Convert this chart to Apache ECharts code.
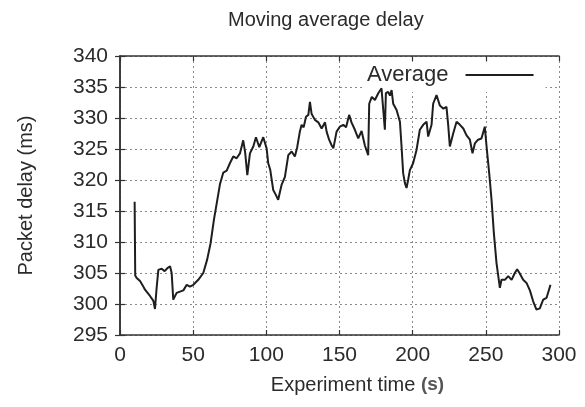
<!DOCTYPE html>
<html>
<head>
<meta charset="utf-8">
<script src="https://cdn.jsdelivr.net/npm/echarts@6/dist/echarts.min.js"></script>
<style>html,body{margin:0;padding:0;background:#fff}#c{width:585px;height:407px}</style>
</head>
<body>
<div id="c"></div>
<script>
var times = [10,10.4,11.4,13.7,15.5,17.1,20.5,22.8,23.9,25.0,26.2,28.5,30.5,32.5,34.2,35.3,36.4,38.7,41.0,43.3,45.6,47.8,50.1,53.5,56.9,59.6,61.9,64.2,66.5,68.3,70.6,72.9,75.1,77.4,79.7,82.0,84.2,85.5,87.0,88.8,91.1,92.9,94.0,95.2,97.9,100.2,101.3,102.7,104.7,106.5,108.1,110.4,112.7,115.0,117.3,119.5,121.1,122.9,124.1,125.5,127.1,128.7,129.8,130.9,133.2,135.5,137.8,140.1,141.2,142.9,144.6,145.8,148.0,150.3,152.6,154.5,156.6,158.2,160.5,162.8,165.1,167.3,169.6,170.3,172.1,174.2,176.5,178.7,179.9,181.0,181.7,183.3,184.5,185.6,186.7,189.0,191.3,192.4,193.5,194.7,195.8,196.9,198.1,200.3,202.6,204.9,207.2,209.5,210.6,212.9,214.0,216.3,218.6,221.0,223.1,224.3,225.4,227.7,230.0,232.3,234.6,236.8,239.1,240.9,242.5,244.7,247.0,249.3,250.5,252.3,253.9,255.5,257.3,259.6,260.7,263.0,265.3,267.6,269.8,271.4,273.0,275.5,277.8,280.1,282.4,284.6,286.9,289.2,291.5,294.2];
var delays = [316.5,304.6,304.2,303.7,303.0,302.3,301.3,300.5,299.2,302.5,305.5,305.7,305.3,305.8,306.1,305.0,300.7,301.8,302.0,302.2,303.1,302.8,303.1,303.9,305.0,307.2,309.8,313.6,316.8,319.3,321.2,321.5,322.7,323.8,323.5,324.3,326.4,324.5,320.8,324.3,325.4,326.9,326.6,325.3,326.9,325.1,322.7,321.6,318.4,317.6,316.8,319.2,320.5,324.0,324.6,323.8,325.3,327.8,328.9,328.5,330.2,330.5,332.6,330.7,329.7,329.3,328.3,329.3,327.8,326.5,325.6,325.1,327.8,328.6,328.9,328.5,330.5,329.3,328.1,326.7,327.9,325.6,324.0,332.3,333.4,332.9,334.0,334.8,335.1,328.1,334.0,334.2,333.6,334.5,332.3,331.3,329.4,325.4,321.1,319.5,318.7,320.0,321.6,322.7,324.8,328.1,328.9,329.4,327.0,328.9,332.3,333.7,332.0,331.5,331.8,328.8,325.4,327.5,329.4,328.9,328.3,327.2,326.5,324.3,325.9,326.5,326.7,328.6,325.4,321.1,316.8,311.4,306.6,302.6,303.9,303.9,304.5,303.9,305.0,305.6,305.0,303.9,303.4,302.2,300.4,299.1,299.3,300.7,301.0,303.1];
var xTicks = {min: 0, max: 300, step: 50};
var yTicks = {min: 295, max: 340, step: 5};
var titleText = 'Moving average delay';
var xName = 'Experiment time ';
var yName = 'Packet delay (ms)';
var seriesName = 'Average';

var pts = times.map(function (t, i) { return [t, delays[i]]; });
var txt = '#2b2b2b';
var font = 'Liberation Sans, Arial, sans-serif';
var axisLine = {show: true, lineStyle: {color: '#333', width: 1.5}};
var tick = {show: true, inside: true, length: 5, lineStyle: {color: '#333', width: 1.2}};
var grid = {show: true, lineStyle: {color: '#8a8a8a', type: [2, 3], width: 1}};

var chart = echarts.init(document.getElementById('c'), null, {renderer: 'canvas'});
chart.setOption({
  animation: false,
  backgroundColor: '#fff',
  title: {text: titleText, left: 223, top: 5, textStyle: {fontFamily: font, fontSize: 20, fontWeight: 'normal', color: txt}},
  legend: {
    data: [seriesName], left: 362, top: 62, z: 1, align: 'right',
    backgroundColor: '#fff', padding: [2, 12, 6, 5],
    itemWidth: 68, itemHeight: 2, icon: 'rect',
    textStyle: {fontFamily: font, fontSize: 22, color: txt, padding: [0, 12, 0, 0]}
  },
  grid: {left: 120, right: 26, top: 56, bottom: 72},
  xAxis: [{
    type: 'value', min: xTicks.min, max: xTicks.max, interval: xTicks.step,
    axisLine: axisLine, axisTick: tick, splitLine: grid,
    axisLabel: {fontFamily: font, fontSize: 21, color: txt, margin: 10},
    name: xName + '{b|(s)}', nameLocation: 'middle', nameGap: 40,
    nameTextStyle: {fontFamily: font, fontSize: 20, color: txt, padding: [0, 0, 0, 36],
      rich: {b: {fontFamily: font, fontSize: 19, fontWeight: 'bold', color: '#555'}}}
  }, {
    type: 'value', position: 'top', min: xTicks.min, max: xTicks.max, interval: xTicks.step,
    axisLine: axisLine, axisTick: tick, splitLine: {show: false}, axisLabel: {show: false}
  }],
  yAxis: [{
    type: 'value', min: yTicks.min, max: yTicks.max, interval: yTicks.step,
    axisLine: axisLine, axisTick: tick, splitLine: grid,
    axisLabel: {fontFamily: font, fontSize: 21, color: txt, margin: 12},
    name: yName, nameLocation: 'middle', nameGap: 84,
    nameTextStyle: {fontFamily: font, fontSize: 20, color: txt}
  }, {
    type: 'value', position: 'right', min: yTicks.min, max: yTicks.max, interval: yTicks.step,
    axisLine: axisLine, axisTick: tick, splitLine: {show: false}, axisLabel: {show: false}
  }],
  series: [{
    name: seriesName, type: 'line', data: pts, showSymbol: false, symbol: 'none', z: 3,
    lineStyle: {color: '#1e1e1e', width: 2}, itemStyle: {color: '#1e1e1e'}
  }]
});
</script>
</body>
</html>
